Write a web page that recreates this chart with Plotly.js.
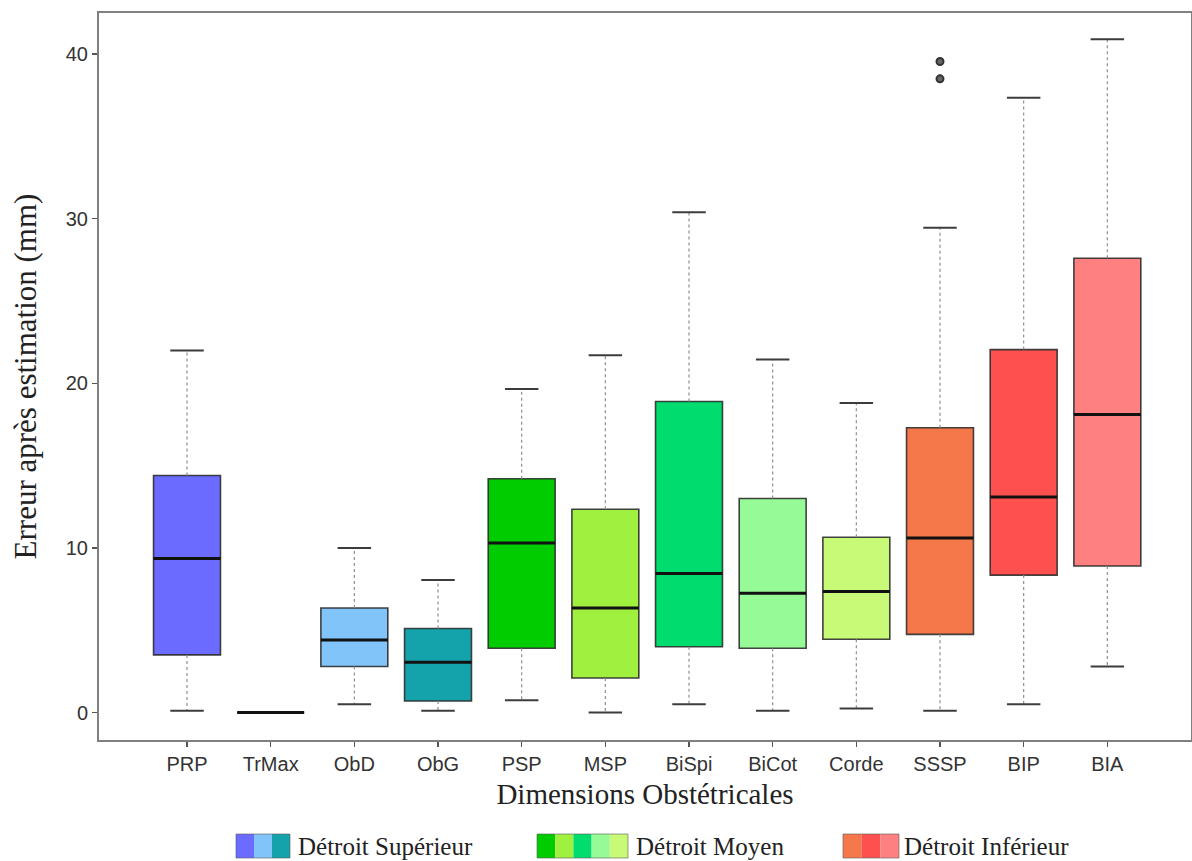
<!DOCTYPE html>
<html>
<head>
<meta charset="utf-8">
<script src="https://cdn.plot.ly/plotly-3.0.1.min.js"></script>
<style>html,body{margin:0;padding:0;background:#fff;}#chart{width:1192px;height:861px;}</style>
</head>
<body>
<div id="chart"></div>
<script>
// ---- data ----
const categories = ["PRP","TrMax","ObD","ObG","PSP","MSP","BiSpi","BiCot","Corde","SSSP","BIP","BIA"];
const lowerWhisker = [0.1, 0, 0.5, 0.1, 0.75, 0.0, 0.5, 0.1, 0.25, 0.1, 0.5, 2.8];
const q1Values     = [3.5, 0, 2.8, 0.7, 3.9, 2.1, 4.0, 3.9, 4.45, 4.75, 8.35, 8.9];
const medianValues = [9.35, 0, 4.4, 3.05, 10.3, 6.35, 8.45, 7.25, 7.35, 10.6, 13.1, 18.1];
const q3Values     = [14.4, 0, 6.35, 5.1, 14.2, 12.35, 18.9, 13.0, 10.65, 17.3, 22.05, 27.6];
const upperWhisker = [22.0, 0, 10.0, 8.05, 19.65, 21.7, 30.4, 21.45, 18.8, 29.45, 37.35, 40.9];
const outlierCategory = ["SSSP","SSSP"];
const outlierValues = [39.55, 38.5];
const boxColors = ["#6b6bff","#6b6bff","#80c4fa","#14a3aa","#00cc00","#a0f040","#00dc6e","#96fa96","#c8fa78","#f5784b","#ff5050","#ff8080"];
const groupNames = ["Détroit Supérieur","Détroit Moyen","Détroit Inférieur"];
const groupMembers = [["PRP","ObD","ObG"],["PSP","MSP","BiSpi","BiCot","Corde"],["SSSP","BIP","BIA"]];
const yTicks = [0,10,20,30,40];

// ---- layout constants ----
const W = 1192, H = 861;
const M = {l: 99, r: 1, t: 13, b: 121};
const pw = W - M.l - M.r, ph = H - M.t - M.b;
const px2paperX = p => (p - M.l) / pw;
const px2paperY = p => (H - M.b - p) / ph;

const traces = [];
const idx = c => categories.indexOf(c);

// whiskers (dotted)
const wx = [], wy = [];
categories.forEach((c, i) => {
  wx.push(i, i, null, i, i, null);
  wy.push(q3Values[i], upperWhisker[i], null, q1Values[i], lowerWhisker[i], null);
});
traces.push({type:"scatter", mode:"lines", x: wx, y: wy, line:{color:"#8f8f8f", width:1.2, dash:"dot"}, hoverinfo:"skip", showlegend:false});

// caps
const cx = [], cy = [];
categories.forEach((c, i) => {
  if (upperWhisker[i] === lowerWhisker[i]) return;
  cx.push(i-0.2, i+0.2, null, i-0.2, i+0.2, null);
  cy.push(upperWhisker[i], upperWhisker[i], null, lowerWhisker[i], lowerWhisker[i], null);
});
traces.push({type:"scatter", mode:"lines", x: cx, y: cy, line:{color:"#3c3c3c", width:2}, hoverinfo:"skip", showlegend:false});

// boxes
categories.forEach((c, i) => {
  traces.push({
    type:"box", x:[i], q1:[q1Values[i]], median:[medianValues[i]], q3:[q3Values[i]],
    lowerfence:[q1Values[i]], upperfence:[q3Values[i]],
    width:0.8, whiskerwidth:0, boxpoints:false,
    fillcolor: boxColors[i], line:{color:"rgba(45,45,45,0.9)", width:1.6},
    hoverinfo:"skip", showlegend:false, name:c
  });
});

// medians (thick)
const mx = [], my = [];
categories.forEach((c, i) => {
  mx.push(i-0.4, i+0.4, null);
  my.push(medianValues[i], medianValues[i], null);
});
traces.push({type:"scatter", mode:"lines", x: mx, y: my, line:{color:"#111", width:3}, hoverinfo:"skip", showlegend:false});

// outliers
traces.push({type:"scatter", mode:"markers", x: outlierCategory.map(idx), y: outlierValues,
  marker:{symbol:"circle", size:7, color:"#666", line:{width:2, color:"#333"}}, hoverinfo:"skip", showlegend:false});

// ---- legend (shapes + text) ----
const shapes = [], annotations = [];
const legendSw = [[236,290],[537,628],[843,899]];
const legendTextX = [296, 634, 902];
const swTop = 834, swBot = 858;
groupMembers.forEach((members, g) => {
  const [x0, x1] = legendSw[g];
  const step = (x1 - x0) / members.length;
  members.forEach((m, k) => {
    shapes.push({type:"rect", xref:"paper", yref:"paper",
      x0: px2paperX(x0 + k*step), x1: px2paperX(x0 + (k+1)*step),
      y0: px2paperY(swBot), y1: px2paperY(swTop),
      fillcolor: boxColors[idx(m)], line:{width:0}});
  });
  shapes.push({type:"rect", xref:"paper", yref:"paper",
    x0: px2paperX(x0), x1: px2paperX(x1), y0: px2paperY(swBot), y1: px2paperY(swTop),
    fillcolor:"rgba(0,0,0,0)", line:{width:1, color:"rgba(90,90,90,0.6)"}});
  annotations.push({xref:"paper", yref:"paper", x: px2paperX(legendTextX[g]), y: px2paperY((swTop+swBot)/2),
    xanchor:"left", yanchor:"middle", showarrow:false, text: groupNames[g],
    font:{family:"Liberation Serif, Times New Roman, serif", size:25, color:"#222"}});
});

const layout = {
  width: W, height: H,
  margin: M,
  paper_bgcolor:"#ffffff", plot_bgcolor:"#ffffff",
  showlegend:false,
  xaxis:{
    range:[-1.052, 12.0], tickmode:"array", tickvals: categories.map((c,i)=>i), ticktext: categories,
    showgrid:false, zeroline:false, showline:true, mirror:true, linecolor:"#808080", linewidth:2,
    ticks:"outside", ticklen:5, tickcolor:"#555", tickwidth:1.5,
    tickfont:{family:"Liberation Sans, Arial, sans-serif", size:20, color:"#333"},
    title:{text:"Dimensions Obstétricales", standoff:10, font:{family:"Liberation Serif, Times New Roman, serif", size:29, color:"#222"}}
  },
  yaxis:{
    range:[-1.67, 42.5], tickvals: yTicks, ticktext: yTicks.map(String),
    showgrid:false, zeroline:false, showline:true, mirror:true, linecolor:"#808080", linewidth:2,
    ticks:"outside", ticklen:5, tickcolor:"#555", tickwidth:1.5,
    tickfont:{family:"Liberation Sans, Arial, sans-serif", size:20, color:"#333"},
    title:{text:"Erreur après estimation (mm)", standoff:20, font:{family:"Liberation Serif, Times New Roman, serif", size:31, color:"#222"}}
  },
  shapes, annotations
};

Plotly.newPlot("chart", traces, layout, {staticPlot:true, displayModeBar:false});
</script>
</body>
</html>
